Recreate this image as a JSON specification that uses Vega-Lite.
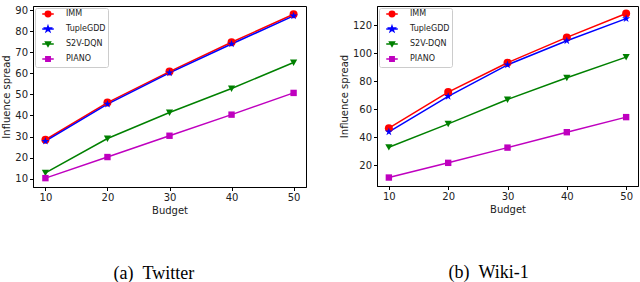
{
  "$schema": "https://vega.github.io/schema/vega-lite/v6.json",
  "padding": {"left": 1, "top": 4, "right": 4, "bottom": 0},
  "background": "white",
  "datasets": {
    "twitter": [
      {"budget": 10, "method": "IMM", "spread": 28.5},
      {"budget": 20, "method": "IMM", "spread": 46.1},
      {"budget": 30, "method": "IMM", "spread": 60.8},
      {"budget": 40, "method": "IMM", "spread": 74.7},
      {"budget": 50, "method": "IMM", "spread": 88.0},
      {"budget": 10, "method": "TupleGDD", "spread": 27.8},
      {"budget": 20, "method": "TupleGDD", "spread": 45.4},
      {"budget": 30, "method": "TupleGDD", "spread": 60.2},
      {"budget": 40, "method": "TupleGDD", "spread": 73.9},
      {"budget": 50, "method": "TupleGDD", "spread": 87.2},
      {"budget": 10, "method": "S2V-DQN", "spread": 12.8},
      {"budget": 20, "method": "S2V-DQN", "spread": 29.1},
      {"budget": 30, "method": "S2V-DQN", "spread": 41.4},
      {"budget": 40, "method": "S2V-DQN", "spread": 52.8},
      {"budget": 50, "method": "S2V-DQN", "spread": 65.1},
      {"budget": 10, "method": "PIANO", "spread": 10.3},
      {"budget": 20, "method": "PIANO", "spread": 20.3},
      {"budget": 30, "method": "PIANO", "spread": 30.4},
      {"budget": 40, "method": "PIANO", "spread": 40.4},
      {"budget": 50, "method": "PIANO", "spread": 50.7}
    ],
    "wiki": [
      {"budget": 10, "method": "IMM", "spread": 46.5},
      {"budget": 20, "method": "IMM", "spread": 72.3},
      {"budget": 30, "method": "IMM", "spread": 93.3},
      {"budget": 40, "method": "IMM", "spread": 111.4},
      {"budget": 50, "method": "IMM", "spread": 128.5},
      {"budget": 10, "method": "TupleGDD", "spread": 43.9},
      {"budget": 20, "method": "TupleGDD", "spread": 69.2},
      {"budget": 30, "method": "TupleGDD", "spread": 91.8},
      {"budget": 40, "method": "TupleGDD", "spread": 109.0},
      {"budget": 50, "method": "TupleGDD", "spread": 124.8},
      {"budget": 10, "method": "S2V-DQN", "spread": 32.9},
      {"budget": 20, "method": "S2V-DQN", "spread": 49.6},
      {"budget": 30, "method": "S2V-DQN", "spread": 67.0},
      {"budget": 40, "method": "S2V-DQN", "spread": 82.5},
      {"budget": 50, "method": "S2V-DQN", "spread": 97.3},
      {"budget": 10, "method": "PIANO", "spread": 11.2},
      {"budget": 20, "method": "PIANO", "spread": 21.7},
      {"budget": 30, "method": "PIANO", "spread": 32.6},
      {"budget": 40, "method": "PIANO", "spread": 43.6},
      {"budget": 50, "method": "PIANO", "spread": 54.4}
    ]
  },
  "spacing": 31,
  "resolve": {"scale": {"color": "independent"}, "legend": {"color": "independent"}},
  "hconcat": [
    {
      "width": 273,
      "height": 181,
      "title": {"text": "(a)\u00a0\u00a0Twitter", "orient": "bottom", "anchor": "middle", "frame": "bounds", "font": "Liberation Serif", "fontSize": 18, "fontWeight": "normal", "color": "black", "offset": 49},
      "data": {"name": "twitter"},
      "encoding": {
        "x": {"field": "budget", "type": "quantitative", "title": "Budget", "scale": {"domain": [8, 52], "nice": false, "zero": false}, "axis": {"values": [10, 20, 30, 40, 50]}},
        "y": {"field": "spread", "type": "quantitative", "title": "Influence spread", "scale": {"domain": [6.1, 91.9], "nice": false, "zero": false}, "axis": {"values": [10, 20, 30, 40, 50, 60, 70, 80, 90]}},
        "color": {"field": "method", "type": "nominal", "title": null, "scale": {"domain": ["IMM", "TupleGDD", "S2V-DQN", "PIANO"], "range": ["#ff0000", "#0000ff", "#008000", "#bf00bf"]},
          "legend": {"symbolType": {"expr": "datum.value === 'IMM' ? 'M-2.1,0H2.1M-1,0A1,1 0 1,0 1,0A1,1 0 1,0 -1,0Z' : datum.value === 'TupleGDD' ? 'M-2.1,0H2.1M0,-1.05L0.24,-0.33L1,-0.33L0.38,0.12L0.62,0.85L0,0.4L-0.62,0.85L-0.38,0.12L-1,-0.33L-0.24,-0.33Z' : datum.value === 'S2V-DQN' ? 'M-2.1,0H2.1M-0.9,-0.75L0.9,-0.75L0,0.85Z' : 'M-2.1,0H2.1M-0.8,-0.8H0.8V0.8H-0.8Z'"}}}
      },
      "layer": [
        {"mark": {"type": "line", "strokeWidth": 1.5}},
        {"transform": [{"filter": "datum.method === 'IMM'"}], "mark": {"type": "point", "filled": true, "opacity": 1, "size": 64, "shape": "circle"}},
        {"transform": [{"filter": "datum.method === 'TupleGDD'"}], "mark": {"type": "point", "filled": true, "opacity": 1, "size": 64, "shape": "M0,-1.05L0.24,-0.33L1,-0.33L0.38,0.12L0.62,0.85L0,0.4L-0.62,0.85L-0.38,0.12L-1,-0.33L-0.24,-0.33Z"}},
        {"transform": [{"filter": "datum.method === 'S2V-DQN'"}], "mark": {"type": "point", "filled": true, "opacity": 1, "size": 64, "shape": "M-0.9,-0.75L0.9,-0.75L0,0.85Z"}},
        {"transform": [{"filter": "datum.method === 'PIANO'"}], "mark": {"type": "point", "filled": true, "opacity": 1, "size": 64, "shape": "M-0.8,-0.8H0.8V0.8H-0.8Z"}}
      ]
    },
    {
      "width": 261,
      "height": 180,
      "title": {"text": "(b)\u00a0\u00a0Wiki-1", "orient": "bottom", "anchor": "middle", "frame": "bounds", "font": "Liberation Serif", "fontSize": 18, "fontWeight": "normal", "color": "black", "offset": 49},
      "data": {"name": "wiki"},
      "encoding": {
        "x": {"field": "budget", "type": "quantitative", "title": "Budget", "scale": {"domain": [8, 52], "nice": false, "zero": false}, "axis": {"values": [10, 20, 30, 40, 50]}},
        "y": {"field": "spread", "type": "quantitative", "title": "Influence spread", "scale": {"domain": [5.15, 133.85], "nice": false, "zero": false}, "axis": {"values": [20, 40, 60, 80, 100, 120]}},
        "color": {"field": "method", "type": "nominal", "title": null, "scale": {"domain": ["IMM", "TupleGDD", "S2V-DQN", "PIANO"], "range": ["#ff0000", "#0000ff", "#008000", "#bf00bf"]},
          "legend": {"symbolType": {"expr": "datum.value === 'IMM' ? 'M-2.1,0H2.1M-1,0A1,1 0 1,0 1,0A1,1 0 1,0 -1,0Z' : datum.value === 'TupleGDD' ? 'M-2.1,0H2.1M0,-1.05L0.24,-0.33L1,-0.33L0.38,0.12L0.62,0.85L0,0.4L-0.62,0.85L-0.38,0.12L-1,-0.33L-0.24,-0.33Z' : datum.value === 'S2V-DQN' ? 'M-2.1,0H2.1M-0.9,-0.75L0.9,-0.75L0,0.85Z' : 'M-2.1,0H2.1M-0.8,-0.8H0.8V0.8H-0.8Z'"}}}
      },
      "layer": [
        {"mark": {"type": "line", "strokeWidth": 1.5}},
        {"transform": [{"filter": "datum.method === 'IMM'"}], "mark": {"type": "point", "filled": true, "opacity": 1, "size": 64, "shape": "circle"}},
        {"transform": [{"filter": "datum.method === 'TupleGDD'"}], "mark": {"type": "point", "filled": true, "opacity": 1, "size": 64, "shape": "M0,-1.05L0.24,-0.33L1,-0.33L0.38,0.12L0.62,0.85L0,0.4L-0.62,0.85L-0.38,0.12L-1,-0.33L-0.24,-0.33Z"}},
        {"transform": [{"filter": "datum.method === 'S2V-DQN'"}], "mark": {"type": "point", "filled": true, "opacity": 1, "size": 64, "shape": "M-0.9,-0.75L0.9,-0.75L0,0.85Z"}},
        {"transform": [{"filter": "datum.method === 'PIANO'"}], "mark": {"type": "point", "filled": true, "opacity": 1, "size": 64, "shape": "M-0.8,-0.8H0.8V0.8H-0.8Z"}}
      ]
    }
  ],
  "config": {
    "font": "DejaVu Sans",
    "view": {"stroke": "black", "strokeWidth": 1},
    "axis": {"grid": false, "domainColor": "black", "tickColor": "black", "tickSize": 3.5, "labelFont": "DejaVu Sans", "labelFontSize": 10, "labelColor": "#222", "labelPadding": 2, "titleFont": "DejaVu Sans", "titleFontSize": 10, "titleFontWeight": "normal", "titleColor": "#222", "titlePadding": 3},
    "legend": {
      "orient": "top-left", "offset": 2, "padding": 2, "strokeColor": "#cccccc", "fillColor": "white", "cornerRadius": 2,
      "labelFont": "DejaVu Sans", "labelFontSize": 8, "labelColor": "#222", "symbolSize": 30, "rowPadding": 3, "symbolOffset": 7, "labelOffset": 14, "symbolOpacity": 1, "symbolStrokeWidth": 1.5
    }
  }
}
